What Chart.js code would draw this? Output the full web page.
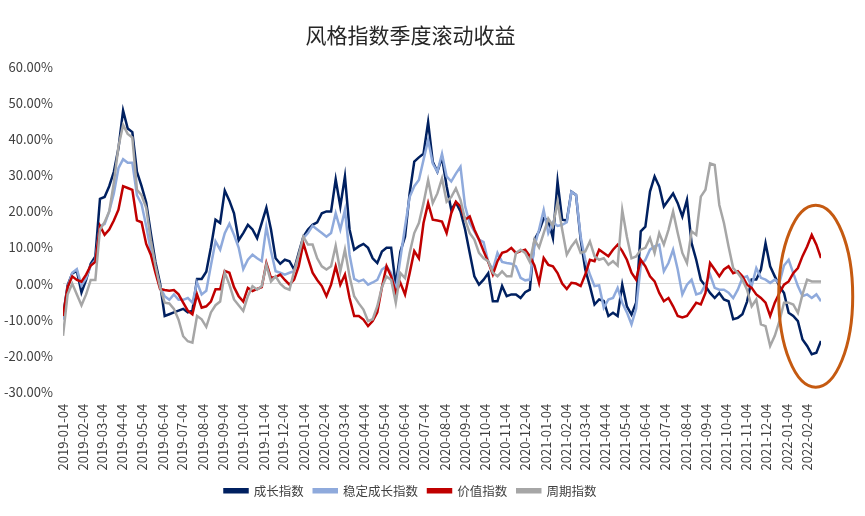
<!DOCTYPE html>
<html>
<head>
<meta charset="utf-8">
<script src="https://cdn.jsdelivr.net/npm/chart.js@4"></script>
<style>
  body { margin: 0; background: #fff; }
</style>
</head>
<body>
<canvas id="chartCanvas" width="865" height="516"></canvas>
<script>
// weekly data, first point on 2019-01-04, values in %
const startDate = "2019-01-04";

const tickLabels = [
    "2019-01-04", "2019-02-04", "2019-03-04", "2019-04-04", "2019-05-04", "2019-06-04",
    "2019-07-04", "2019-08-04", "2019-09-04", "2019-10-04", "2019-11-04", "2019-12-04",
    "2020-01-04", "2020-02-04", "2020-03-04", "2020-04-04", "2020-05-04", "2020-06-04",
    "2020-07-04", "2020-08-04", "2020-09-04", "2020-10-04", "2020-11-04", "2020-12-04",
    "2021-01-04", "2021-02-04", "2021-03-04", "2021-04-04", "2021-05-04", "2021-06-04",
    "2021-07-04", "2021-08-04", "2021-09-04", "2021-10-04", "2021-11-04", "2021-12-04",
    "2022-01-04", "2022-02-04"
];

const seriesNames = ["成长指数", "稳定成长指数", "价值指数", "周期指数"];

const growth = [
    -9, -0.5, 2.8, 3.5, -2.5, 1, 5.5, 7.5, 23.5, 24,
    27, 31, 37.5, 48, 43, 42, 31, 27, 22.5, 14,
    6, 0, -9, -8.5, -8, -7.5, -7, -8, -7.5, 1.3,
    1.3, 3.3, 10, 17.7, 16.8, 25.8, 23, 19.5, 12, 14,
    16.3, 15, 12.6, 16.8, 21, 15, 7, 5.5, 6.6, 6.2,
    3.9, 8.5, 13, 15, 16.3, 17, 19.5, 20, 20, 28.9,
    21.4, 29.7, 15, 9.4, 10.3, 11, 9.9, 7, 5.7, 8.9,
    9.9, 9.9, -0.5, 8.9, 13, 25, 33.8, 35, 36, 44.8,
    33.8, 31, 35, 27, 20.5, 22.5, 20, 15, 8.5, 2,
    -0.3, 1.1, 2.9, -4.9, -4.9, -0.7, -3.5, -3, -3, -4,
    -2.4, -1.7, 12.2, 14.5, 18.1, 17.5, 12.6, 28.3, 17.7, 17.5,
    25.5, 24.6, 12.2, 3.9, -0.7, -5.8, -4.4, -4.8, -9, -8.1,
    -9, -0.3, -6.3, -8.6, -5.3, 14.5, 15.8, 25.5, 29.7, 26.9,
    21.4, 23.2, 25, 22.3, 18.6, 23.2, 11.2, 6.6, 1, -0.7,
    -2.6, -4, -2.6, -4.4, -4.9, -9.9, -9.5, -8.5, -5, 1.1,
    1.1, 3.9, 11.2, 4.8, 2, -0.7, -2.6, -8.1, -9, -10.4,
    -15.5, -17.3, -19.6, -19.2, -15.9
];

const stableGrowth = [
    -10, -1, 3, 4, -0.5, 1.5, 5, 6.5, 16, 16.5,
    20, 25, 32, 34.5, 33.5, 33.5, 24.5, 22, 16, 9,
    4, -1, -3.5, -4.5, -3, -4.5, -4.5, -4, -5.3, 0.3,
    -3, -2, 5, 11.7, 9.4, 14, 16.6, 13.5, 10, 4,
    6.6, 8, 7, 6.2, 15.7, 9, 3.4, 3, 2.5, 3,
    3.4, 7, 12.6, 14, 16, 15, 14, 13, 14, 19.5,
    15, 20.4, 8, 1.3, 0.6, 1.1, -0.3, 0.3, 1, 3.9,
    4.8, 2.9, -2, 7, 15.8, 24, 27, 28.7, 34.3, 39.8,
    33.3, 31, 36, 29.7, 28.3, 30.5, 32.4, 21.4, 16.8, 14.5,
    12.2, 11.5, 6, 3.9, 8.5, 6, 5.7, 5.5, 4.8, 1.6,
    0.9, 1.1, 10.3, 15, 20.4, 14, 17, 16, 16.3, 17,
    25.5, 24.6, 13, 6.6, 2.5, -0.7, -0.5, -6.7, -4.4, -4,
    -1.2, -5.3, -8, -11.3, -7, 5, 6.6, 9.4, 10.3, 10.8,
    3.4, 5.7, 9.4, 3.9, -3, -0.3, 1.1, -3, -2.6, -0.3,
    2.5, -1.2, -1.7, -1.7, -2.5, -4, -1.7, 1.6, 2, -0.7,
    4.3, 1.6, 1.1, 0.2, 1.1, 0.2, 5, 6.6, 2.9, -0.7,
    -3.5, -3, -4, -3, -4.9
];

const value = [
    -9, -1, 2, 1, 0.5, 2.5, 5, 6, 16, 13.5,
    15, 17.5, 20.5, 27, 26.5, 26, 17.5, 17, 11, 8,
    3, -1.5, -1.8, -2, -1.8, -3, -5.3, -7.5, -8.5, -3,
    -6.7, -6.3, -5, -1.6, -1.6, 3.5, 3, -1, -3.5, -5,
    -1.2, -2.1, -1.5, -1, 5.7, 1.6, 1.8, 2.5, 1, -0.3,
    1.1, 4.8, 11.2, 7, 3, 1, -0.7, -3.5, -0.3, 4.8,
    -0.3, 2.5, -4, -9, -9, -10, -11.8, -10.4, -8, -1,
    4.8, 2, -2.6, 0.2, -3, 2.9, 9, 7, 16.8, 22.3,
    17.7, 17.5, 17.2, 14, 19.5, 22.7, 21.4, 17.7, 18.6, 15,
    12.2, 9, 6, 2.5, 6.2, 8.5, 8.9, 9.9, 8.5, 9,
    9.4, 7.6, 5, 0.2, 7.1, 5.2, 4.8, 2.9, 0, -1.5,
    0.2, 0, -0.7, 2.5, 6.6, 6.2, 9.4, 8.5, 7.6, 9.4,
    10.8, 9, 6.6, 3, 1.1, 6.6, 4.8, 2, 0.6, -2.6,
    -4.9, -4, -6.3, -9, -9.4, -9, -7.2, -5.3, -5.8, -2.6,
    5.7, 3.9, 2, 3.9, 4.8, 2.9, 3.4, 2, -0.3, -1.2,
    -3, -4, -5.3, -9, -5.3, -2.6, -0.3, 0.6, 2.9, 4.3,
    7.6, 10.3, 13.5, 10.8, 7.1
];

const cyclical = [
    -14.5, -3, 0, -3, -6, -3, 1, 1, 15, 17,
    20, 28, 38, 44, 41.5, 40.5, 26, 24.5, 21, 12,
    5, -1, -5.3, -5.5, -7, -10, -14.6, -16, -16.4, -9,
    -9.9, -12, -8, -6, -5, 3, -0.3, -4.4, -6, -7.6,
    -3.5, -0.7, -1.7, -0.7, 5.2, 0.6, 2, 0, -1.2, -1.7,
    3.4, 8, 13, 10.8, 10.8, 7, 4.8, 3.9, 4.8, 10.5,
    3.4, 9.4, 2, -3.5, -5.5, -7.2, -10.4, -9.9, -6.3, -1,
    2, 1, -5.3, 2.9, 1.5, 8.5, 14, 16.8, 22.3, 28.7,
    22.3, 25, 29.2, 22.7, 24, 26.4, 23.2, 17.7, 14, 12.2,
    8.5, 7, 6.2, 3, 2, 3.4, 2, 2, 8.5, 9.4,
    8.5, 6, 12.2, 10, 14, 18, 16, 22.7, 15, 8,
    10.3, 12, 8.5, 8.9, 11.7, 7.6, 6.6, 7, 5.2, 6.2,
    5, 20.4, 13, 7, 7.5, 9.4, 9.9, 12.6, 8.5, 14,
    10.8, 14.9, 20, 14, 8.5, 5.7, 14.5, 13.5, 24.1, 26,
    33.3, 32.9, 21.8, 16.8, 10.3, 4.3, 2.9, 1.1, -1.7, -6.3,
    -4.4, -11.3, -11.8, -17.3, -14.5, -10.4, -5.3, -5.3, -5.8, -8.1,
    -3, 1.1, 0.6, 0.6, 0.6
];

const seriesValues = [growth, stableGrowth, value, cyclical];
const seriesColors = ["#002060", "#8FAADC", "#C00000", "#A6A6A6"];

const DAY = 86400000;
const dayOf = (s) => (Date.parse(s) - Date.parse(startDate)) / DAY;
const tickDays = tickLabels.map(dayOf);
const lastDay = (growth.length - 1) * 7;

const fontFamily = "'Noto Sans CJK SC', 'Noto Sans', sans-serif";
const textColor = "#404040";

// orange ring around the latest weeks
const ringPlugin = {
    id: "ring",
    afterDatasetsDraw(chart) {
        const { ctx, scales } = chart;
        const cx = scales.x.getPixelForValue(1140);
        const cy = scales.y.getPixelForValue(-3.5);
        ctx.save();
        ctx.strokeStyle = "#C55A11";
        ctx.lineWidth = 3;
        ctx.beginPath();
        ctx.ellipse(cx, cy, 37, 91, 0, 0, Math.PI * 2);
        ctx.stroke();
        ctx.restore();
    }
};

const ctx = document.getElementById("chartCanvas").getContext("2d");

new Chart(ctx, {
    type: "line",
    data: {
        datasets: seriesNames.map((name, k) => ({
            label: name,
            data: seriesValues[k].map((v, i) => ({ x: i * 7, y: v })),
            borderColor: seriesColors[k],
            backgroundColor: seriesColors[k],
            borderWidth: 2.5,
            pointRadius: 0,
            tension: 0,
            order: seriesNames.length - k // later series drawn on top
        }))
    },
    options: {
        responsive: false,
        animation: false,
        layout: { padding: { left: 0, right: 44, top: 0, bottom: 9 } },
        scales: {
            x: {
                type: "linear",
                min: 0,
                max: lastDay,
                afterBuildTicks: (scale) => {
                    scale.ticks = tickDays.map(d => ({ value: d }));
                },
                ticks: {
                    autoSkip: false,
                    minRotation: 90,
                    maxRotation: 90,
                    padding: 4,
                    color: textColor,
                    font: { family: fontFamily, size: 13 },
                    callback: (v, i) => tickLabels[i]
                },
                grid: { display: false },
                border: { display: false }
            },
            y: {
                min: -30,
                max: 60,
                afterFit: (scale) => { scale.width = 63; },
                ticks: {
                    stepSize: 10,
                    padding: 10,
                    color: textColor,
                    font: { family: fontFamily, size: 13 },
                    callback: (v) => v.toFixed(2) + "%"
                },
                grid: {
                    drawTicks: false,
                    color: (c) => Math.abs(c.tick.value) < 1e-9 ? "#D9D9D9" : "rgba(0,0,0,0)"
                },
                border: { display: false }
            }
        },
        plugins: {
            title: {
                display: true,
                text: "风格指数季度滚动收益",
                color: "#262626",
                font: { family: fontFamily, size: 21, weight: "normal" },
                padding: { top: 22, bottom: 20 }
            },
            legend: {
                position: "bottom",
                labels: {
                    boxWidth: 23,
                    boxHeight: 3,
                    padding: 10,
                    color: textColor,
                    font: { family: fontFamily, size: 12.5 },
                    sort: (a, b) => a.datasetIndex - b.datasetIndex
                }
            },
            tooltip: { enabled: false }
        }
    },
    plugins: [ringPlugin]
});
</script>
</body>
</html>
